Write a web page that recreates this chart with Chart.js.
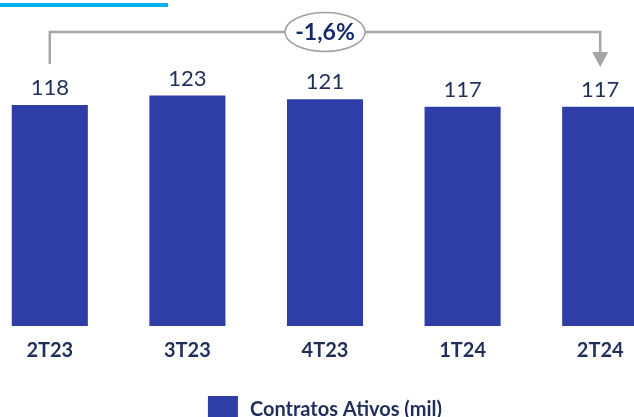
<!DOCTYPE html>
<html>
<head>
<meta charset="utf-8">
<script src="https://cdn.jsdelivr.net/npm/chart.js@4.4.1/dist/chart.umd.min.js"></script>
<style>
  html, body { margin: 0; padding: 0; width: 634px; height: 417px; overflow: hidden; background: #fff; }
  #wrap { position: absolute; left: -19px; top: 0; }
</style>
</head>
<body>
<div id="wrap"><canvas id="chart" width="688" height="417"></canvas></div>
<script>
var quarters = ['2T23', '3T23', '4T23', '1T24', '2T24'];
var contratos = [118, 123, 121, 117, 117];
var seriesName = 'Contratos Ativos (mil)';
var changeLabel = '-1,6%';

var barColor = '#2E3EA6';
var navy = '#1F2F5C';
var OFFSET = 19; // canvas sits 19px left of the page

// value labels, bracket, legend and top accent line
var extras = {
  id: 'extras',
  afterDatasetsDraw: function(chart) {
    var ctx = chart.ctx;
    var meta = chart.getDatasetMeta(0);
    ctx.save();
    ctx.font = '22px Lato';
    ctx.fillStyle = navy;
    ctx.textAlign = 'center';
    ctx.textBaseline = 'alphabetic';
    meta.data.forEach(function(bar, i) {
      ctx.fillText(contratos[i], bar.x, bar.y - 10);
    });

    // accent line top-left
    ctx.fillStyle = '#00B0F0';
    ctx.fillRect(OFFSET, 3, 168, 4);

    // bracket from first to last bar
    var x0 = meta.data[0].x;
    var x1 = meta.data[meta.data.length - 1].x;
    var yTop = 32;
    ctx.strokeStyle = '#A5A5A5';
    ctx.lineWidth = 2.5;
    ctx.beginPath();
    ctx.moveTo(x0, 64);
    ctx.lineTo(x0, yTop);
    ctx.lineTo(x1, yTop);
    ctx.lineTo(x1, 53);
    ctx.stroke();
    ctx.fillStyle = '#A5A5A5';
    ctx.beginPath();
    ctx.moveTo(x1 - 8, 52);
    ctx.lineTo(x1 + 8, 52);
    ctx.lineTo(x1, 67);
    ctx.closePath();
    ctx.fill();

    var cx = (x0 + x1) / 2;
    ctx.beginPath();
    ctx.ellipse(cx, yTop, 40, 19.5, 0, 0, Math.PI * 2);
    ctx.fillStyle = '#fff';
    ctx.fill();
    ctx.lineWidth = 1.5;
    ctx.strokeStyle = '#A0A0A0';
    ctx.stroke();
    ctx.fillStyle = '#102A6B';
    ctx.font = 'bold 23px Lato';
    ctx.textBaseline = 'middle';
    ctx.fillText(changeLabel, cx, yTop + 1);

    // legend
    ctx.font = 'bold 20px Lato';
    var tw = ctx.measureText(seriesName).width;
    var total = 30 + 12 + tw;
    var lx = (chart.chartArea.left + chart.chartArea.right) / 2 - total / 2;
    ctx.fillStyle = barColor;
    ctx.fillRect(lx, 396, 30, 28);
    ctx.fillStyle = navy;
    ctx.textAlign = 'left';
    ctx.fillText(seriesName, lx + 42, 410);
    ctx.restore();
  }
};

new Chart(document.getElementById('chart'), {
  type: 'bar',
  data: {
    labels: quarters,
    datasets: [{
      label: seriesName,
      data: contratos,
      backgroundColor: barColor,
      borderWidth: 0,
      barPercentage: 0.553,
      categoryPercentage: 1
    }]
  },
  options: {
    responsive: false,
    animation: false,
    layout: { padding: { top: 0, left: 0, right: 0, bottom: 49 } },
    scales: {
      x: {
        grid: { display: false },
        border: { display: false },
        ticks: { padding: 5, color: navy, font: { family: 'Lato', size: 20, weight: 'bold' } }
      },
      y: { display: false, min: 0, max: 174 }
    },
    plugins: {
      tooltip: { enabled: false },
      legend: { display: false }
    }
  },
  plugins: [extras]
});
</script>
</body>
</html>
